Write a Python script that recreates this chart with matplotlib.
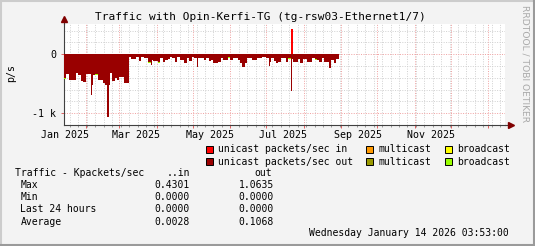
import datetime
import numpy as np
import matplotlib
matplotlib.use('Agg')
import matplotlib.pyplot as plt
from matplotlib.patches import Rectangle
from matplotlib.lines import Line2D

# time axis: days counted from the start of the graph
start = np.datetime64('2025-01-14')
span = 366

# unicast packets/sec out, Kpackets/sec, one value per 2 days (drawn downward)
out_unicast = [
    -0.41, -0.33, -0.43, -0.44, -0.44, -0.32, -0.35, -0.46, -0.47, -0.33,
    -0.33, -0.52, -0.35, -0.34, -0.43, -0.43, -0.49, -0.52, -0.52, -0.32,
    -0.45, -0.41, -0.43, -0.39, -0.39, -0.49, -0.48, -0.055, -0.08, -0.09,
    -0.04, -0.11, -0.055, -0.068, -0.07, -0.13, -0.10, -0.11, -0.12, -0.14,
    -0.068, -0.125, -0.096, -0.08, -0.055, -0.07, -0.125, -0.04, -0.096, -0.096,
    -0.15, -0.07, -0.11, -0.055, -0.07, -0.07, -0.068, -0.07, -0.096, -0.07,
    -0.11, -0.096, -0.15, -0.15, -0.125, -0.07, -0.096, -0.096, -0.055, -0.096,
    -0.07, -0.07, -0.096, -0.15, -0.21, -0.15, -0.07, -0.06, -0.096, -0.096,
    -0.07, -0.07, -0.055, -0.055, -0.07, -0.125, -0.068, -0.11, -0.15, -0.125,
    -0.068, -0.068, -0.125, -0.07, -0.085, -0.125, -0.125, -0.085, -0.15, -0.085,
    -0.085, -0.125, -0.125, -0.068, -0.09, -0.096, -0.125, -0.068, -0.125, -0.14,
    -0.24, -0.096, -0.15, -0.085,
]
out_days = np.arange(len(out_unicast)) * 2

# single-day peaks of the out traffic
peak_days = [22, 36, 72, 110, 170, 188]
peak_out = [-0.69, -1.06, -0.19, -0.21, -0.20, -0.62]

# unicast packets/sec in (only the July peak is visible)
in_days = [188]
in_unicast = [0.43]

# small multicast / broadcast out bits at the bottom of some bars
mcast_days = [154, 30]
mcast_out = [-0.012, -0.010]
bcast_days = [0, 26, 52, 70, 78, 136, 170, 186, 208]
bcast_out = [-0.012, -0.012, -0.014, -0.012, -0.012, -0.012, -0.012, -0.012, -0.012]

W, H = 535, 246
BG = '#f3f3f3'


def fx(x):
    return x / W


def fy(y):
    return 1 - y / H


plt.rcParams['font.family'] = 'DejaVu Sans Mono'

fig = plt.figure(figsize=(W / 100, H / 100), dpi=100, facecolor=BG)
ax = fig.add_axes([fx(64), fy(124.5), fx(505) - fx(64), fy(24) - fy(124.5)])
ax.set_facecolor('white')
ax.set_xlim(0, span)
ax.set_ylim(-1.19, 0.51)

# out areas, stacked downward
ax.bar(out_days, out_unicast, width=2, align='edge', color='#990000', lw=0, zorder=3)
ax.bar(peak_days, peak_out, width=1, align='edge', color='#990000', lw=0, zorder=3)
base = [out_unicast[d // 2] for d in mcast_days]
ax.bar(mcast_days, mcast_out, bottom=base, width=2, align='edge', color='#999900', lw=0, zorder=3)
base = [out_unicast[d // 2] for d in bcast_days]
ax.bar(bcast_days, bcast_out, bottom=base, width=2, align='edge', color='#99ff00', lw=0, zorder=3)
ax.bar(in_days, in_unicast, width=2, align='edge', color='#ff0000', lw=0, zorder=4)

# grid: months (red) and weeks (gray)
months = np.arange('2025-02', '2026-02', dtype='datetime64[M]')
month_days = (months.astype('datetime64[D]') - start).astype(int)
week_days = np.arange(5, span, 7)
ax.set_xticks(month_days)
ax.set_xticks(week_days, minor=True)
ax.set_yticks([-1, 0])
ax.set_yticks(np.arange(-1.0, 0.5, 0.2), minor=True)
ax.set_yticklabels(['-1 k', '0'], fontsize=7.2)
ax.set_xticklabels([])
ax.grid(which='minor', color='#d0d0d0', lw=0.7, ls=(0, (1, 1.5)))
ax.grid(which='major', color='#f0a0a0', lw=0.7, ls=(0, (1, 1.5)))
ax.set_axisbelow(True)
ax.tick_params(which='major', length=2.5, width=0.7, color='#e06060', pad=3)
ax.tick_params(which='minor', length=1.5, width=0.7, color='#999999')
ax.tick_params(axis='y', which='minor', length=0)

for s in ['top', 'right']:
    ax.spines[s].set_visible(False)
for s in ['left', 'bottom']:
    ax.spines[s].set_color('#404040')
    ax.spines[s].set_linewidth(0.8)

# axis arrows
ax.add_line(Line2D([1, 1.012], [0, 0], transform=ax.transAxes, color='#404040', lw=0.8, clip_on=False))
ax.add_line(Line2D([0, 0], [1, 1.04], transform=ax.transAxes, color='#404040', lw=0.8, clip_on=False))
ax.plot([1.014], [0], marker='>', ms=4, color='#800000', transform=ax.transAxes, clip_on=False)
ax.plot([0], [1.05], marker='^', ms=4, color='#800000', transform=ax.transAxes, clip_on=False)

# month labels, centred mid-month
label_months = np.arange('2025-01', '2025-12', 2, dtype='datetime64[M]')
for m in label_months:
    d = (m.astype('datetime64[D]') - start).astype(int) + 14
    txt = m.astype(datetime.date).strftime('%b %Y')
    ax.text(d, -0.055, txt, transform=ax.get_xaxis_transform(), ha='center', va='top', fontsize=7.2)

fig.text(fx(260), fy(17), 'Traffic with Opin-Kerfi-TG (tg-rsw03-Ethernet1/7)',
         ha='center', va='center', fontsize=8)
fig.text(fx(11.5), fy(73.5), 'p/s', rotation=90, ha='center', va='center', fontsize=7.2)
fig.text(fx(525), fy(5), 'RRDTOOL / TOBI OETIKER', rotation=270, ha='center', va='top',
         fontsize=6.6, color='#aaaaaa', family='DejaVu Sans')

# legend
legend = [
    ('unicast packets/sec in', '#ff0000', 206, 149.3),
    ('multicast', '#ff9900', 366, 149.3),
    ('broadcast', '#ffff00', 444.5, 149.3),
    ('unicast packets/sec out', '#990000', 206, 161.7),
    ('multicast', '#999900', 366, 161.7),
    ('broadcast', '#99ff00', 444.5, 161.7),
]
for name, col, x, y in legend:
    fig.add_artist(Rectangle((fx(x), fy(y + 3.5)), 7 / W, 7 / H, transform=fig.transFigure,
                             facecolor=col, edgecolor='black', lw=0.7))
    fig.text(fx(x + 12.5), fy(y), name, ha='left', va='center', fontsize=7)

# summary table
rows = ['Max', 'Min', 'Last 24 hours', 'Average']
vals_in = ['0.4301', '0.0000', '0.0000', '0.0028']
vals_out = ['1.0635', '0.0000', '0.0000', '0.1068']
fig.text(fx(15), fy(173.3), 'Traffic - Kpackets/sec', ha='left', va='center', fontsize=7)
fig.text(fx(190), fy(173.3), '..in', ha='right', va='center', fontsize=7)
fig.text(fx(271.7), fy(173.3), 'out', ha='right', va='center', fontsize=7)
for i, r in enumerate(rows):
    y = 185 + i * 12.2
    fig.text(fx(20.5), fy(y), r, ha='left', va='center', fontsize=7)
    fig.text(fx(190), fy(y), vals_in[i], ha='right', va='center', fontsize=7)
    fig.text(fx(274), fy(y), vals_out[i], ha='right', va='center', fontsize=7)
fig.text(fx(509), fy(233.3), 'Wednesday January 14 2026 03:53:00', ha='right', va='center', fontsize=7)

# 3d frame
fig.add_artist(Line2D([0, 1], [fy(0.75), fy(0.75)], transform=fig.transFigure, color='#cccccc', lw=1.5))
fig.add_artist(Line2D([fx(0.75), fx(0.75)], [0, 1], transform=fig.transFigure, color='#cccccc', lw=1.5))
fig.add_artist(Line2D([0, 1], [fy(245), fy(245)], transform=fig.transFigure, color='#9a9a9a', lw=1.5))
fig.add_artist(Line2D([fx(534), fx(534)], [0, 1], transform=fig.transFigure, color='#9a9a9a', lw=1.5))

fig.savefig('out.png', dpi=100, facecolor=BG)
